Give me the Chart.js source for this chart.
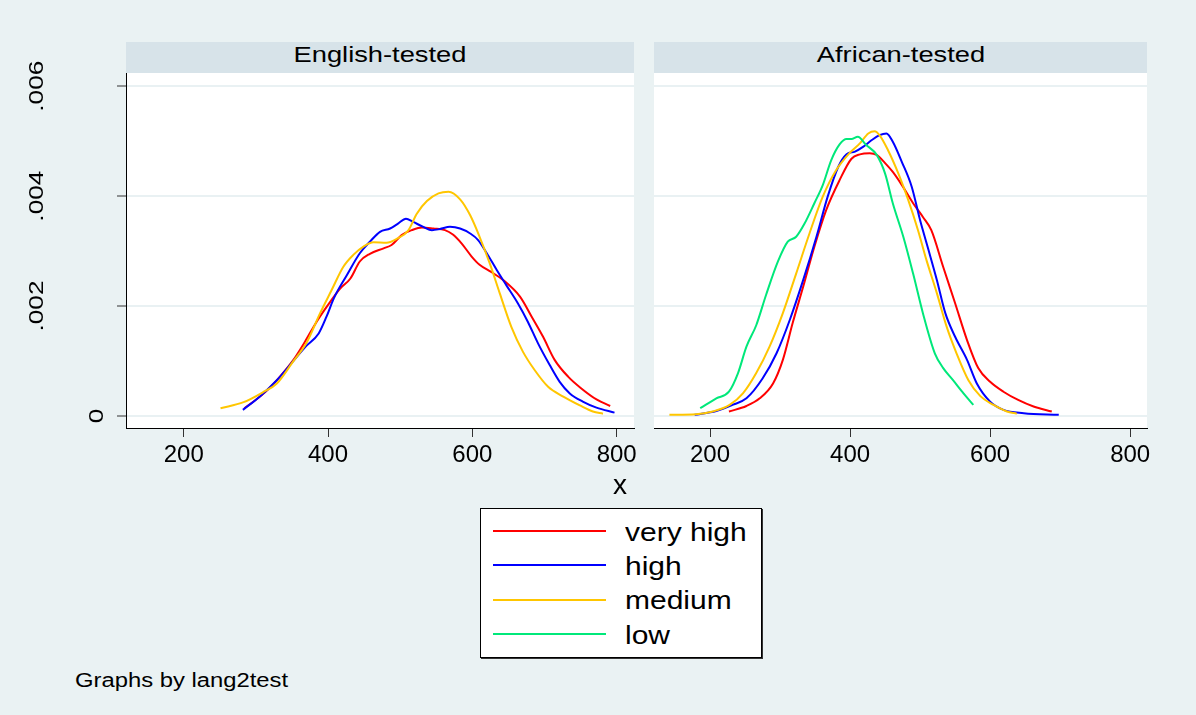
<!DOCTYPE html>
<html>
<head>
<meta charset="utf-8">
<script src="https://cdn.jsdelivr.net/npm/chart.js@4.4.1/dist/chart.umd.min.js"></script>
<style>
    body {
        margin: 0;
        width: 1196px;
        height: 715px;
        position: relative;
        overflow: hidden;
        background: #eaf2f3;
        font-family: "Liberation Sans", Arial, sans-serif;
        color: #000;
    }
    .abs { position: absolute; }
    .hdr {
        position: absolute;
        top: 42px;
        height: 31px;
        background: #d7e3e9;
    }
    .txt {
        position: absolute;
        white-space: nowrap;
        line-height: 1;
    }
    #legend {
        position: absolute;
        left: 480px;
        top: 508px;
        width: 282px;
        height: 150px;
        box-sizing: border-box;
        border: 1px solid #000;
        box-shadow: 1px 1px 0 #333;
        background: #fff;
    }
</style>
</head>
<body>
<div class="hdr" id="hdr0" style="left:126px; width:508px"></div>
<div class="hdr" id="hdr1" style="left:654px; width:493px"></div>
<canvas id="chart0" class="abs" width="640" height="433" style="left:0; top:40px"></canvas>
<canvas id="chart1" class="abs" width="542" height="400" style="left:654px; top:73px"></canvas>
<div id="legend"></div>

<script>
const panelTitles = ['English-tested', 'African-tested'];
const seriesNames = ['very high', 'high', 'medium', 'low'];
const seriesColors = ['#ff0000', '#0000ff', '#ffc600', '#00e87a'];
const xTicks = [200, 400, 600, 800];
const yTicks = [0, 0.002, 0.004, 0.006];
const yTickLabels = ['0', '.002', '.004', '.006'];
const xTitle = 'x';
const noteText = 'Graphs by lang2test';

// English-tested: [x, density]
const engVeryHigh = [[284,0.00014],[311,0.00041],[331,0.00068],[352,0.00102],[368,0.00135],[384,0.00171],[400,0.00202],[417,0.00232],[431,0.0025],[444,0.00281],[458,0.00295],[477,0.00305],[488,0.00311],[502,0.00329],[516,0.00338],[530,0.00343],[546,0.00341],[562,0.00338],[573,0.0033],[585,0.00314],[599,0.0029],[610,0.00275],[626,0.00262],[643,0.00247],[666,0.00217],[682,0.00181],[698,0.00144],[714,0.00102],[733,0.00071],[751,0.0005],[772,0.0003],[791,0.00018]];
const engHigh = [[282,0.00011],[306,0.00036],[329,0.00065],[350,0.00097],[368,0.00125],[387,0.0015],[398,0.00181],[408,0.00214],[426,0.00256],[444,0.00296],[458,0.00317],[472,0.00335],[486,0.00341],[497,0.0035],[508,0.00359],[518,0.00353],[532,0.00344],[544,0.00338],[555,0.0034],[569,0.00344],[583,0.00341],[597,0.00332],[608,0.0032],[620,0.00296],[634,0.00265],[647,0.00238],[663,0.00205],[677,0.00171],[691,0.00132],[707,0.00093],[721,0.00062],[735,0.00041],[753,0.00026],[772,0.00015],[797,0.00006]];
const engMedium = [[251,0.00014],[283,0.00025],[311,0.00044],[329,0.00059],[350,0.00096],[371,0.00135],[389,0.00187],[405,0.00229],[421,0.00271],[435,0.00293],[449,0.00308],[463,0.00316],[481,0.00315],[495,0.00322],[511,0.00337],[523,0.00368],[537,0.00391],[553,0.00405],[567,0.00408],[583,0.00394],[597,0.00365],[610,0.00326],[624,0.00278],[638,0.00223],[654,0.00162],[670,0.00117],[686,0.00084],[705,0.00053],[726,0.00035],[749,0.00019],[767,0.00008],[781,0.00004]];

// African-tested
const afrVeryHigh = [[227,0.00008],[252,0.00018],[271,0.00032],[290,0.00059],[304,0.00102],[318,0.00169],[333,0.00235],[349,0.00308],[366,0.00375],[385,0.00429],[402,0.00468],[414,0.00476],[428,0.00478],[438,0.00475],[450,0.0046],[461,0.00444],[474,0.0042],[490,0.00387],[504,0.00362],[516,0.00338],[533,0.00271],[550,0.00205],[567,0.00138],[583,0.00087],[600,0.00062],[619,0.00044],[640,0.00029],[662,0.00017],[688,0.00008]];
const afrHigh = [[178,0.00002],[209,0.00009],[232,0.0002],[252,0.00032],[275,0.00068],[295,0.00114],[314,0.00175],[333,0.00247],[352,0.00326],[368,0.00399],[383,0.00453],[395,0.00476],[407,0.00481],[419,0.0049],[431,0.00502],[442,0.00511],[452,0.00514],[461,0.00499],[474,0.00462],[488,0.00417],[500,0.00356],[512,0.00302],[524,0.00247],[536,0.00187],[550,0.00144],[567,0.00102],[581,0.00059],[600,0.00026],[619,0.00011],[648,0.00005],[698,0.00002]];
const afrMedium = [[142,0.00002],[180,0.00003],[204,0.00008],[228,0.0002],[247,0.00041],[266,0.00078],[285,0.00126],[304,0.00187],[323,0.00259],[342,0.00332],[361,0.00399],[380,0.00447],[399,0.00478],[414,0.00496],[426,0.00514],[435,0.00518],[442,0.00511],[454,0.00484],[469,0.00441],[483,0.00393],[497,0.00338],[509,0.00284],[524,0.00223],[538,0.00162],[552,0.00114],[569,0.00065],[586,0.00036],[605,0.0002],[624,0.00008],[638,0.00004]];
const afrLow = [[186,0.00014],[209,0.00032],[227,0.00044],[240,0.00078],[252,0.00126],[266,0.00165],[280,0.0022],[297,0.00281],[311,0.00317],[323,0.00326],[335,0.0035],[349,0.00387],[361,0.0042],[373,0.00465],[385,0.00494],[395,0.00504],[402,0.00504],[411,0.00508],[423,0.00493],[438,0.00475],[450,0.00441],[461,0.00387],[476,0.00326],[490,0.00259],[504,0.00187],[521,0.00114],[533,0.00087],[547,0.00065],[562,0.00041],[576,0.0002]];

const panelSeries = [
    [engVeryHigh, engHigh, engMedium, null],
    [afrVeryHigh, afrHigh, afrMedium, afrLow]
];

const fontFamily = '"Liberation Sans", Arial, sans-serif';
const gridColor = '#e9f1f3';

// Puts a text so that its baseline sits at y, stretched a bit like the Stata output.
function addText(parent, text, x, baseline, size, stretch, align) {
    const el = document.createElement('div');
    el.className = 'txt';
    el.textContent = text;
    el.style.fontSize = size + 'px';
    el.style.top = (baseline - 0.8465 * size) + 'px';
    el.style.left = x + 'px';
    if (align === 'center') {
        el.style.transformOrigin = 'center';
        el.style.transform = 'translateX(-50%) scaleX(' + stretch + ')';
    } else {
        el.style.transformOrigin = 'left';
        el.style.transform = 'scaleX(' + stretch + ')';
    }
    parent.appendChild(el);
    return el;
}

// White plot region
const plotBackground = {
    id: 'plotBackground',
    beforeDraw(chart) {
        const a = chart.chartArea;
        chart.ctx.save();
        chart.ctx.fillStyle = '#ffffff';
        chart.ctx.fillRect(a.left, a.top, a.right - a.left, a.bottom - a.top);
        chart.ctx.restore();
    }
};

// Rotated y labels, placed like Stata does
const rotatedYLabels = {
    id: 'rotatedYLabels',
    afterDraw(chart) {
        const ctx = chart.ctx;
        const scale = chart.scales.y;
        ctx.save();
        ctx.fillStyle = '#000';
        ctx.font = '21px ' + fontFamily;
        ctx.textAlign = 'center';
        ctx.textBaseline = 'alphabetic';
        yTicks.forEach((v, i) => {
            const y = scale.getPixelForValue(v);
            const x = yTickLabels[i] === '0' ? 103 : 43;
            ctx.save();
            ctx.translate(x, y);
            ctx.rotate(-Math.PI / 2);
            ctx.scale(1.25, 1);
            ctx.fillText(yTickLabels[i], 0, 0);
            ctx.restore();
        });
        ctx.restore();
    }
};

function makePanel(index) {
    const showY = index === 0;
    const series = panelSeries[index];
    const datasets = [];
    series.forEach((points, i) => {
        if (!points) return;
        datasets.push({
            label: seriesNames[i],
            data: points.map(p => ({ x: p[0], y: p[1] })),
            borderColor: seriesColors[i],
            borderWidth: 2,
            pointRadius: 0,
            fill: false,
            cubicInterpolationMode: 'monotone',
            order: 4 - i
        });
    });

    const config = {
        type: 'line',
        data: { datasets: datasets },
        options: {
            responsive: false,
            animation: false,
            events: [],
            // left canvas starts higher so the top rotated label has room
            layout: { padding: { top: showY ? 33 : 0, left: 0, bottom: 0, right: showY ? 6 : 49 } },
            plugins: { legend: { display: false }, tooltip: { enabled: false } },
            scales: {
                x: {
                    type: 'linear',
                    min: 120,
                    max: 824,
                    afterBuildTicks: s => { s.ticks = xTicks.map(v => ({ value: v })); },
                    afterFit: s => { s.height = 45; s.paddingLeft = 0; s.paddingRight = 0; },
                    ticks: { color: '#000', font: { family: fontFamily, size: 24 }, padding: 4, maxRotation: 0, autoSkip: false },
                    grid: { drawOnChartArea: false, drawTicks: true, tickLength: 9, tickColor: '#333', tickWidth: 1 },
                    border: { color: '#000', width: 1 }
                },
                y: {
                    type: 'linear',
                    min: -0.00022,
                    max: 0.00624,
                    afterBuildTicks: s => { s.ticks = yTicks.map(v => ({ value: v })); },
                    afterFit: s => { s.width = showY ? 126 : 0; s.paddingTop = 0; s.paddingBottom = 0; },
                    ticks: { display: false },
                    grid: { color: gridColor, lineWidth: 2, drawTicks: showY, tickLength: 9, tickColor: '#333', tickWidth: 1 },
                    border: { display: showY, color: '#000', width: 1 }
                }
            }
        },
        plugins: showY ? [plotBackground, rotatedYLabels] : [plotBackground]
    };
    return new Chart(document.getElementById('chart' + index), config);
}

// Panel headers
panelTitles.forEach((t, i) => {
    const hdr = document.getElementById('hdr' + i);
    const w = parseFloat(hdr.style.width);
    addText(hdr, t, w / 2, 21, 22, 1.24, 'center');
});

makePanel(0);
makePanel(1);

// Axis title and note
addText(document.body, xTitle, 620, 495, 28, 1, 'center');
addText(document.body, noteText, 75, 687, 20, 1.19, 'left');

// Shared legend
const legend = document.getElementById('legend');
seriesNames.forEach((name, i) => {
    const rowY = 22 + i * 34.3;
    const line = document.createElement('div');
    line.className = 'abs';
    line.style.left = '12px';
    line.style.top = (rowY - 1) + 'px';
    line.style.width = '113px';
    line.style.height = '2px';
    line.style.background = seriesColors[i];
    legend.appendChild(line);
    addText(legend, name, 144, rowY + 10, 25, 1.2, 'left');
});
</script>
</body>
</html>
